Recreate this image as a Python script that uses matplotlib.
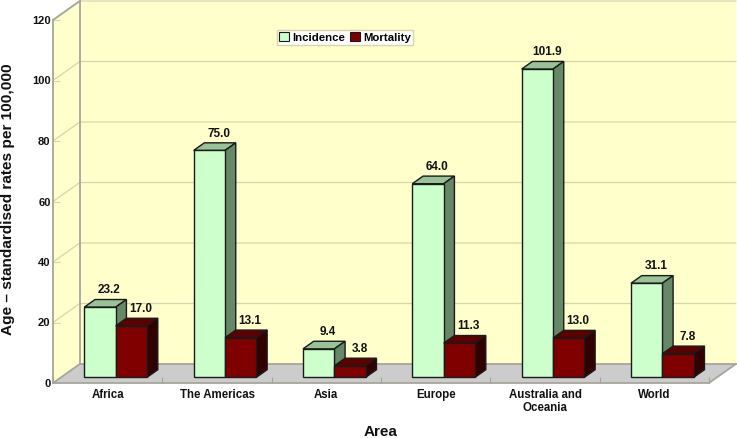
import matplotlib
matplotlib.use("Agg")
import matplotlib.pyplot as plt
from matplotlib.patches import Polygon, Patch

plt.rcParams['font.family'] = ['Liberation Sans', 'DejaVu Sans']
plt.rcParams['font.weight'] = 'bold'

areas = ['Africa', 'The Americas', 'Asia', 'Europe', 'Australia and\nOceania', 'World']
incidence = [23.2, 75.0, 9.4, 64.0, 101.9, 31.1]
mortality = [17.0, 13.1, 3.8, 11.3, 13.0, 7.8]
incidence_labels = ['23.2', '75.0', '9.4', '64.0', '101.9', '31.1']
mortality_labels = ['17.0', '13.1', '3.8', '11.3', '13.0', '7.8']
y_ticks = [0, 20, 40, 60, 80, 100, 120]

W, H = 737, 438
L, R, B, T = 53, 709, 383, 20
fig = plt.figure(figsize=(W / 100, H / 100), dpi=100, facecolor='white')
ax = fig.add_axes([L / W, 1 - B / H, (R - L) / W, (B - T) / H])
ax.set_xlim(-0.5, 5.5)
ax.set_ylim(0, 120)
for s in ax.spines.values():
    s.set_visible(False)
ax.patch.set_visible(False)

DX = 26.8 / ((R - L) / 6)
DY = 19.0 / ((B - T) / 120)


def pr(x, y, d):
    return (x + d * DX, y + d * DY)


def poly(pts, fc, ec='none', lw=0.0, z=1):
    ax.add_patch(Polygon(pts, closed=True, facecolor=fc, edgecolor=ec, linewidth=lw,
                         zorder=z, clip_on=False, joinstyle='miter'))


WALL = '#FFFFCC'
FLOOR = '#CCCCCC'
EDGE = '#A6A69C'
GRID = '#D6D6AC'
x0, x1, y1 = -0.5, 5.5, 120

poly([pr(x0, 0, 1), pr(x1, 0, 1), pr(x1, y1, 1), pr(x0, y1, 1)], WALL, z=1)
poly([pr(x0, 0, 0), pr(x0, 0, 1), pr(x0, y1, 1), pr(x0, y1, 0)], WALL, z=1)
poly([pr(x0, 0, 0), pr(x1, 0, 0), pr(x1, 0, 1), pr(x0, 0, 1)], FLOOR, z=1)

for v in y_ticks[1:]:
    (ax_, ay), (bx, by), (cx, cy) = pr(x0, v, 0), pr(x0, v, 1), pr(x1, v, 1)
    ax.plot([ax_, bx, cx], [ay, by, cy], color=GRID, lw=0.9, zorder=2, clip_on=False)

for pts in ([pr(x0, 0, 1), pr(x0, y1, 1)],
            [pr(x0, y1, 0), pr(x0, y1, 1)],
            [pr(x0, 0, 0), pr(x0, 0, 1)],
            [pr(x0, 0, 1), pr(x1, 0, 1)],
            [pr(x1, 0, 0), pr(x1, 0, 1)],
            [pr(x0, 0, 0), pr(x0, y1, 0)],
            [pr(x0, 0, 0), pr(x1, 0, 0)]):
    ax.plot(*zip(*pts), color=EDGE, lw=1.3, zorder=3, clip_on=False)

BW = 0.287
D0, D1 = 0.30, 0.70
COL_INC = ('#CCFFCC', '#99C299', '#668866')
COL_MOR = ('#800000', '#5E0000', '#330000')


def bar(xa, xb, v, cols):
    e = dict(ec='#1A1A1A', lw=1.0, z=5)
    base = 0
    poly([pr(xa, v, D0), pr(xb, v, D0), pr(xb, v, D1), pr(xa, v, D1)], cols[1], **e)
    poly([pr(xb, base, D0), pr(xb, base, D1), pr(xb, v, D1), pr(xb, v, D0)], cols[2], **e)
    poly([pr(xa, base, D0), pr(xb, base, D0), pr(xb, v, D0), pr(xa, v, D0)], cols[0], **e)


for i in range(len(areas)):
    bar(i - BW, i, incidence[i], COL_INC)
    bar(i, i + BW, mortality[i], COL_MOR)
    for xc, v, t in ((i - BW / 2, incidence[i], incidence_labels[i]),
                     (i + BW / 2, mortality[i], mortality_labels[i])):
        px, py = pr(xc, v, D1)
        ax.annotate(t, (px, py), xytext=(-1, 6.6), textcoords='offset points',
                    ha='center', va='center', fontsize=8.5, color='#111111', zorder=6,
                    annotation_clip=False)

ax.set_yticks(y_ticks)
ax.set_xticks(range(len(areas)))
ax.set_xticklabels(areas, fontsize=8.3, color='#111111', linespacing=1.1)
ax.set_xticks([i + 0.5 for i in range(-1, 6)], minor=True)
ax.tick_params(axis='x', which='major', length=0, pad=4.2)
ax.tick_params(axis='x', which='minor', direction='in', length=4, color=EDGE, width=0.8)
ax.tick_params(axis='y', direction='in', length=5, color=GRID, width=0.8, pad=1.8,
               labelsize=8, labelcolor='#111111')
for t in ax.get_yticklabels() + ax.get_xticklabels():
    t.set_fontweight('bold')

fig.text(381 / W, 1 - 432.5 / H, 'Area', ha='center', va='center', fontsize=11, fontweight='bold', color='#111111')
fig.text(8 / W, 1 - 199 / H, 'Age – standardised rates per 100,000', rotation=90, ha='center', va='center',
         fontsize=11.1, fontweight='bold', color='#111111')

handles = [Patch(facecolor=COL_INC[0], edgecolor='#1A1A1A', linewidth=0.8, label='Incidence'),
           Patch(facecolor=COL_MOR[0], edgecolor='#1A1A1A', linewidth=0.8, label='Mortality')]
leg = ax.legend(handles=handles, ncol=2, loc='center', prop={'size': 8.2, 'weight': 'bold'},
                bbox_to_anchor=(((277 + 413) / 2 - L) / (R - L), (B - 37.5) / (B - T)),
                frameon=True, fancybox=False, framealpha=1, facecolor='white', edgecolor=GRID,
                handlelength=0.85, handleheight=0.85, handletextpad=0.3, columnspacing=0.45,
                borderpad=0.2, borderaxespad=0)
leg.set_zorder(7)
leg.get_frame().set_linewidth(1.0)

fig.savefig('out.png', dpi=100, facecolor='white')
